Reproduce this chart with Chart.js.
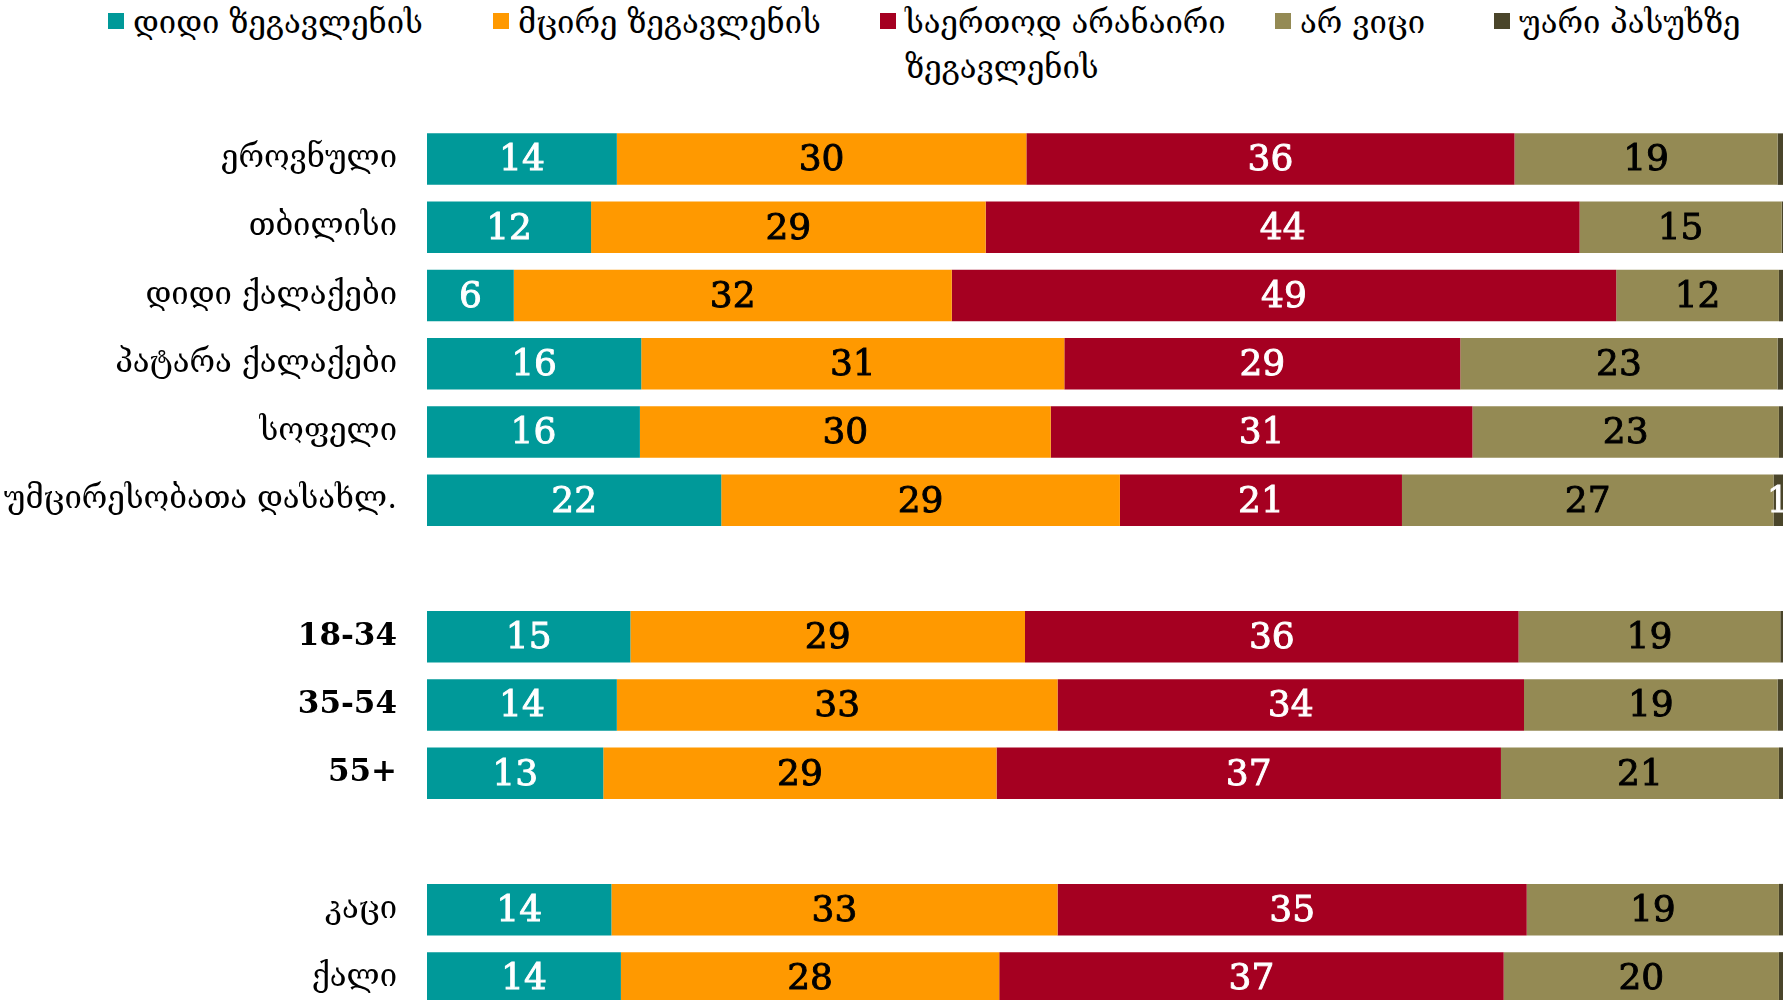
<!DOCTYPE html>
<html>
<head>
<meta charset="utf-8">
<script src="https://cdn.jsdelivr.net/npm/chart.js@4.4.1/dist/chart.umd.min.js"></script>
<style>
    html, body { margin: 0; padding: 0; background: #fff; overflow: hidden; width: 1790px; height: 1000px; }
    #wrap { position: absolute; left: 0; top: 0; width: 1790px; height: 1012px; }
    #legend { position: absolute; left: 0; top: 0; width: 1790px; height: 110px; font-family: "DejaVu Serif", serif; font-size: 31px; color: #000; }
    .item { position: absolute; top: 0; display: flex; align-items: flex-start; line-height: 45px; }
    .item .box { width: 16px; height: 16px; margin-top: 13px; margin-right: 9px; flex: none; }
    .item .txt { max-width: 360px; }
    .item:nth-child(1) { left: 108px; }
    .item:nth-child(2) { left: 493px; }
    .item:nth-child(3) { left: 880px; }
    .item:nth-child(4) { left: 1275px; }
    .item:nth-child(5) { left: 1494px; }
</style>
</head>
<body>
<div id="legend"></div>
<div id="wrap"><canvas id="chart" width="1790" height="1012"></canvas></div>
<script>
// Rows (empty labels are the gaps between groups)
const categories = [
    'ეროვნული', 'თბილისი', 'დიდი ქალაქები', 'პატარა ქალაქები', 'სოფელი', 'უმცირესობათა დასახლ.',
    '',
    '18-34', '35-54', '55+',
    '',
    'კაცი', 'ქალი'
];

const seriesNames = ['დიდი ზეგავლენის', 'მცირე ზეგავლენის', 'საერთოდ არანაირი ზეგავლენის', 'არ ვიცი', 'უარი პასუხზე'];

const bigInfluence   = [14.0, 12.1,  6.4, 15.8, 15.7, 21.7, null, 15.0, 14.0, 13.0, null, 13.6, 14.3];
const smallInfluence = [30.2, 29.1, 32.3, 31.2, 30.3, 29.4, null, 29.1, 32.5, 29.0, null, 32.9, 27.9];
const noInfluence    = [36.0, 43.8, 49.0, 29.2, 31.1, 20.8, null, 36.4, 34.4, 37.2, null, 34.6, 37.2];
const dontKnow       = [19.4, 14.9, 12.0, 23.4, 22.6, 27.4, null, 19.3, 18.7, 20.5, null, 18.6, 20.3];
const refused        = [ 0.4,  0.1,  0.3,  0.4,  0.3,  0.7, null,  0.2,  0.4,  0.3, null,  0.3,  0.3];

const colors = ['#009999', '#FF9900', '#A50021', '#948A54', '#4A452A'];
const labelColors = ['#fff', '#000', '#fff', '#000', '#fff'];

const FONT = '"DejaVu Serif", serif';
const GEORGIAN = /[\u10A0-\u10FF]/;

// Value labels in the middle of each segment (thin stroke for a medium weight)
const barLabels = {
    id: 'barLabels',
    afterDatasetsDraw(chart) {
        const ctx = chart.ctx;
        ctx.save();
        ctx.font = '36px ' + FONT;
        ctx.textAlign = 'center';
        ctx.textBaseline = 'middle';
        ctx.lineWidth = 0.9;
        chart.data.datasets.forEach((ds, i) => {
            const meta = chart.getDatasetMeta(i);
            meta.data.forEach((bar, j) => {
                const v = ds.data[j];
                if (v == null || Math.round(v) < 1) return;
                const x = (bar.x + bar.base) / 2;
                ctx.fillStyle = labelColors[i];
                ctx.strokeStyle = labelColors[i];
                ctx.fillText(String(Math.round(v)), x, bar.y + 2);
                ctx.strokeText(String(Math.round(v)), x, bar.y + 2);
            });
        });
        ctx.restore();
    }
};

// HTML legend
const legendEl = document.getElementById('legend');
seriesNames.forEach((name, i) => {
    const item = document.createElement('div');
    item.className = 'item';
    item.innerHTML = `<span class="box" style="background:${colors[i]}"></span><span class="txt">${name}</span>`;
    legendEl.appendChild(item);
});

const datasets = [bigInfluence, smallInfluence, noInfluence, dontKnow, refused].map((data, i) => ({
    label: seriesNames[i],
    data: data,
    backgroundColor: colors[i],
    borderWidth: 0,
    barPercentage: 0.755,
    categoryPercentage: 1
}));

new Chart(document.getElementById('chart'), {
    type: 'bar',
    data: { labels: categories, datasets: datasets },
    plugins: [barLabels],
    options: {
        indexAxis: 'y',
        responsive: false,
        animation: false,
        layout: { padding: { top: 125, right: 7, left: 0, bottom: 0 } },
        plugins: {
            legend: { display: false },
            tooltip: { enabled: false }
        },
        scales: {
            x: { stacked: true, min: 0, max: 100, display: false },
            y: {
                stacked: true,
                grid: { display: false, drawTicks: false },
                border: { display: false },
                ticks: {
                    color: '#000',
                    padding: 30,
                    // numeric rows are bold in the original
                    font: (c) => ({
                        family: FONT,
                        size: 31,
                        weight: GEORGIAN.test(c.tick && c.tick.label) ? 'normal' : 'bold'
                    })
                },
                afterFit(scale) {
                    scale.width = 427;
                    scale.paddingTop = 0;
                    scale.paddingBottom = 0;
                }
            }
        }
    }
});
</script>
</body>
</html>
